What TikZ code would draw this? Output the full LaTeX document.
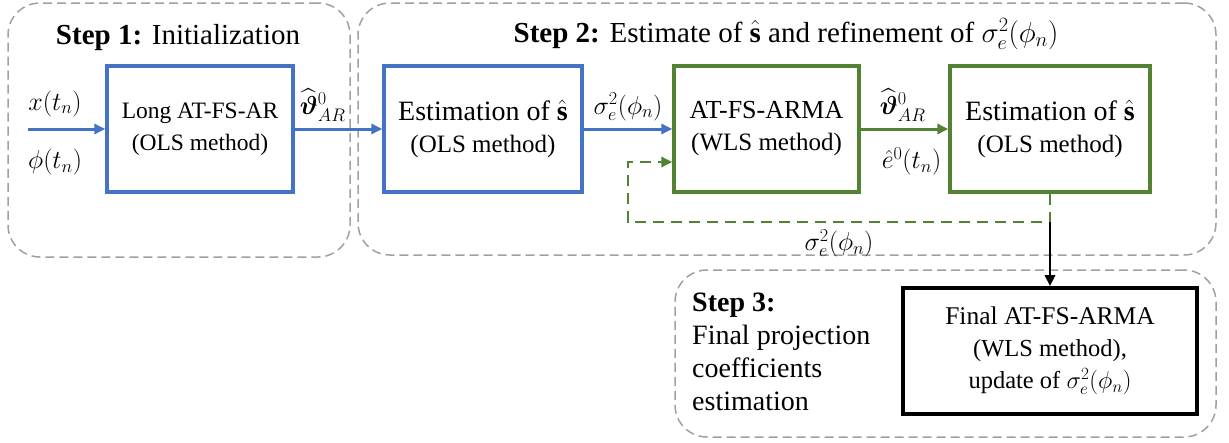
\RequirePackage{fix-cm}
\documentclass[tikz,border=0pt]{standalone}
\usepackage{amsmath,amssymb}
\usepackage{fontspec}
\setmainfont{Liberation Serif}
\usetikzlibrary{arrows.meta,calc}
\definecolor{myblue}{HTML}{4472C4}
\definecolor{mygreen}{HTML}{548235}
\definecolor{mygray}{HTML}{A0A0A0}
\newcommand{\sigphi}{\sigma_e^2(\phi_n)}
\newcommand{\thetaAR}{\widehat{\boldsymbol{\vartheta}}{}^0_{AR}}
\begin{document}
\begin{tikzpicture}[x=1pt,y=-1pt,
  stepbox/.style={draw=mygray, line width=1.5pt, dash pattern=on 9pt off 5pt, rounded corners=32pt, inner sep=0pt},
  bluebox/.style={draw=myblue, line width=3.2pt, minimum height=126pt, align=center, inner sep=0pt},
  greenbox/.style={draw=mygreen, line width=3.2pt, minimum height=126pt, align=center, inner sep=0pt},
  blackbox/.style={draw=black, line width=3.6pt, minimum height=126pt, align=center, inner sep=0pt},
  lab/.style={inner sep=0pt, text=black, font=\fontsize{26}{31}\selectfont},
  title/.style={inner sep=0pt, anchor=base, font=\fontsize{29}{34}\selectfont},
  barrow/.style={myblue, line width=3pt, -{Triangle[length=11pt,width=10pt]}},
  garrow/.style={mygreen, line width=3pt, -{Triangle[length=11pt,width=10pt]}},
  gdash/.style={mygreen, line width=2.8pt, dash pattern=on 11pt off 7pt, -{Triangle[length=11pt,width=10pt]}},
  karrow/.style={black, line width=2.8pt, -{Triangle[length=11pt,width=10pt]}}
]
\useasboundingbox (0,0) rectangle (1229,442);

% step frames
\node[stepbox, minimum width=342pt, minimum height=254pt] (s1) at (179,130) {};
\node[stepbox, minimum width=858pt, minimum height=252pt] (s2) at (787,129) {};
\node[stepbox, minimum width=541pt, minimum height=167pt] (s3) at (945.5,353.5) {};

% titles
\node[title] (t1) at (178,44) {\textbf{Step 1:} Initialization};
\node[title] (t2) at (786,42) {\textbf{Step 2:} Estimate of $\hat{\mathbf{s}}$ and refinement of $\sigphi$};
\node[inner sep=0pt, anchor=north west, align=left, font=\fontsize{28}{33}\selectfont] (t3) at (692,293)
  {\textbf{Step 3:}\\Final projection\\coefficients\\estimation};

% boxes
\node[bluebox, minimum width=186pt, font=\fontsize{23.5}{32}\selectfont] (long) at (200,129)
  {Long AT-FS-AR\\(OLS method)};
\node[bluebox, minimum width=198pt, font=\fontsize{25}{32}\selectfont] (est1) at (483,129)
  {{\fontsize{28}{32}\selectfont Estimation of $\hat{\mathbf{s}}$}\\(OLS method)};
\node[greenbox, minimum width=185pt, font=\fontsize{25}{32}\selectfont] (arma) at (766.5,129)
  {{\fontsize{26}{32}\selectfont AT-FS-ARMA}\\(WLS method)};
\node[greenbox, minimum width=200pt, font=\fontsize{25}{32}\selectfont] (est2) at (1050,129)
  {{\fontsize{28}{32}\selectfont Estimation of $\hat{\mathbf{s}}$}\\(OLS method)};
\node[blackbox, minimum width=294pt, font=\fontsize{24.5}{32}\selectfont] (final) at (1050,351)
  {{\fontsize{25.5}{32}\selectfont Final AT-FS-ARMA}\\(WLS method),\\update of $\sigphi$};

% connectors
\coordinate (in) at (28,129);
\draw[barrow] (in) -- node[lab, pos=0.35, above=11pt] (lx) {$x(t_n)$}
                      node[lab, pos=0.35, below=19pt] (lphi) {$\phi(t_n)$} (long.west);
\draw[barrow] (long.east) -- node[lab, pos=0.32, above=6pt] (lth1) {$\thetaAR$} (est1.west);
\draw[barrow] (est1.east) -- node[lab, pos=0.5, above=7pt] (lsig1) {$\sigphi$} (arma.west);
\draw[garrow] (arma.east) -- node[lab, pos=0.48, above=6pt] (lth2) {$\thetaAR$}
                            node[lab, pos=0.58, below=17pt] (le) {$\hat{e}^0(t_n)$} (est2.west);

\coordinate (c1) at (1050,222);
\coordinate (c2) at (628,222);
\coordinate (c3) at (628,162);
\draw[gdash] (est2.south) -- (c1) -- node[lab, pos=0.5, below=6pt] (lsig2) {$\sigphi$} (c2) -- (c3) -- (c3 -| arma.west);
\draw[karrow] (c1) -- (final.north);
\end{tikzpicture}
\end{document}
